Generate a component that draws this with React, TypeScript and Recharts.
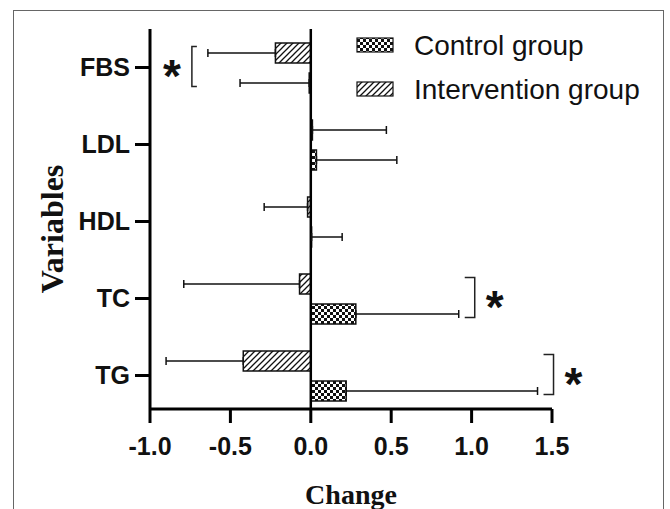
import React from 'react';
import { BarChart, Bar, XAxis, YAxis, ErrorBar, ReferenceLine } from 'recharts';

// values (change from baseline)
const variables = ['FBS', 'LDL', 'HDL', 'TC', 'TG'];
const interventionChange = [-0.22, 0.01, -0.02, -0.07, -0.42];
const interventionSD = [0.42, 0.46, 0.27, 0.72, 0.48];
const controlChange = [-0.01, 0.035, 0.005, 0.28, 0.22];
const controlSD = [0.43, 0.5, 0.19, 0.64, 1.19];
const xTicks = [-1.0, -0.5, 0.0, 0.5, 1.0, 1.5];
const significant = ['FBS', 'TC', 'TG'];
const legendItems = [
  { label: 'Control group', fill: 'url(#checker)' },
  { label: 'Intervention group', fill: 'url(#hatch)' },
];

// one-sided error bars, pointing away from zero
const oneSided = (v: number, e: number) => (v < 0 ? [e, 0] : [0, e]);

const data = variables.map((name, i) => ({
  name,
  intervention: interventionChange[i],
  interventionErr: oneSided(interventionChange[i], interventionSD[i]),
  control: controlChange[i],
  controlErr: oneSided(controlChange[i], controlSD[i]),
}));

const W = 670;
const H = 509;
const PLOT_LEFT = 150;
const PLOT_RIGHT = 552;
const PLOT_TOP = 29;
const BAND_BOTTOM = 414;
const X_MIN = -1;
const X_MAX = 1.5;

const toX = (v: number) => PLOT_LEFT + ((v - X_MIN) / (X_MAX - X_MIN)) * (PLOT_RIGHT - PLOT_LEFT);
const bandCenter = (i: number) => PLOT_TOP + ((BAND_BOTTOM - PLOT_TOP) / variables.length) * (i + 0.5);

const sans = 'Liberation Sans, Arial, sans-serif';
const serif = 'Liberation Serif, Times New Roman, serif';

function Patterns() {
  return (
    <svg width={0} height={0} style={{ position: 'absolute' }}>
      <defs>
        <pattern id="checker" patternUnits="userSpaceOnUse" width={6} height={6}>
          <rect width={6} height={6} fill="#fff" />
          <rect width={3} height={3} fill="#111" />
          <rect x={3} y={3} width={3} height={3} fill="#111" />
        </pattern>
        <pattern id="hatch" patternUnits="userSpaceOnUse" width={6} height={6}>
          <rect width={6} height={6} fill="#fff" />
          <path d="M-1,1 l2,-2 M0,6 l6,-6 M5,7 l2,-2" stroke="#111" strokeWidth={1.3} />
        </pattern>
      </defs>
    </svg>
  );
}

function Annotations() {
  return (
    <svg width={W} height={H} style={{ position: 'absolute', left: 0, top: 0, pointerEvents: 'none' }}>
      {/* legend */}
      {legendItems.map((item, k) => {
        const cy = 45 + k * 44;
        return (
          <g key={item.label}>
            <rect x={357} y={cy - 7} width={36} height={14} fill={item.fill} stroke="#111" strokeWidth={1.2} />
            <text x={414} y={cy} dominantBaseline="central" fontFamily={sans} fontSize={28} fill="#111">
              {item.label}
            </text>
          </g>
        );
      })}

      {/* significance brackets */}
      {significant.map((name) => {
        const i = variables.indexOf(name);
        const ends = [
          interventionChange[i] < 0 ? interventionChange[i] - interventionSD[i] : interventionChange[i] + interventionSD[i],
          controlChange[i] < 0 ? controlChange[i] - controlSD[i] : controlChange[i] + controlSD[i],
          interventionChange[i],
          controlChange[i],
        ];
        const hi = Math.max(...ends);
        const lo = Math.min(...ends);
        const right = hi >= -lo;
        const c = bandCenter(i);
        const top = c - 21;
        const bottom = c + 19;
        const bx = right ? toX(hi) + 16 : toX(lo) - 16;
        const arm = right ? -10 : 5;
        const ax = right ? bx + 20 : bx - 20;
        return (
          <g key={name}>
            <path
              d={`M${bx + arm},${top} H${bx} V${bottom} H${bx + arm}`}
              fill="none"
              stroke="#222"
              strokeWidth={1.5}
            />
            <text x={ax} y={c + 24} textAnchor="middle" fontFamily={sans} fontWeight={700} fontSize={46} fill="#111">
              *
            </text>
          </g>
        );
      })}

      {/* axis titles */}
      <text
        x={63}
        y={229}
        transform="rotate(-90, 63, 229)"
        textAnchor="middle"
        fontFamily={serif}
        fontWeight={700}
        fontSize={32}
        fill="#111"
      >
        Variables
      </text>
      <text x={351} y={504} textAnchor="middle" fontFamily={serif} fontWeight={700} fontSize={28} fill="#111">
        Change
      </text>
    </svg>
  );
}

export default function App() {
  return (
    <div style={{ position: 'absolute', left: 0, top: 0, width: W, height: H, background: '#fff', overflow: 'hidden' }}>
      <Patterns />
      <div
        style={{
          position: 'absolute',
          left: 13,
          top: 10,
          width: 649,
          height: 520,
          border: '1.5px solid #666',
        }}
      />
      <div style={{ position: 'absolute', left: 0, top: 0 }}>
        <BarChart
          width={W}
          height={H}
          data={data}
          layout="vertical"
          margin={{ top: PLOT_TOP, right: W - PLOT_RIGHT, bottom: 0, left: 0 }}
          barSize={20}
          barGap={10}
        >
          <XAxis
            type="number"
            domain={[X_MIN, X_MAX]}
            ticks={xTicks}
            tickFormatter={(v: number) => v.toFixed(1)}
            height={H - 409}
            axisLine={{ stroke: '#000', strokeWidth: 3 }}
            tickLine={{ stroke: '#000', strokeWidth: 3 }}
            tickSize={14}
            tickMargin={14}
            tick={{ fill: '#111', fontSize: 25, fontWeight: 700, fontFamily: sans }}
            interval={0}
          />
          <YAxis
            type="category"
            dataKey="name"
            width={PLOT_LEFT}
            padding={{ top: 0, bottom: -5 }}
            axisLine={{ stroke: '#000', strokeWidth: 3 }}
            tickLine={{ stroke: '#000', strokeWidth: 3 }}
            tickSize={15}
            tickMargin={5}
            tick={{ fill: '#111', fontSize: 25, fontWeight: 700, fontFamily: sans }}
            interval={0}
          />
          <ReferenceLine x={0} stroke="#000" strokeWidth={2.5} />
          <Bar dataKey="intervention" name="Intervention group" fill="url(#hatch)" stroke="#111" strokeWidth={1.5} isAnimationActive={false}>
            <ErrorBar dataKey="interventionErr" direction="x" width={4} stroke="#111" strokeWidth={1.5} />
          </Bar>
          <Bar dataKey="control" name="Control group" fill="url(#checker)" stroke="#111" strokeWidth={1.5} isAnimationActive={false}>
            <ErrorBar dataKey="controlErr" direction="x" width={4} stroke="#111" strokeWidth={1.5} />
          </Bar>
        </BarChart>
      </div>
      <Annotations />
    </div>
  );
}
